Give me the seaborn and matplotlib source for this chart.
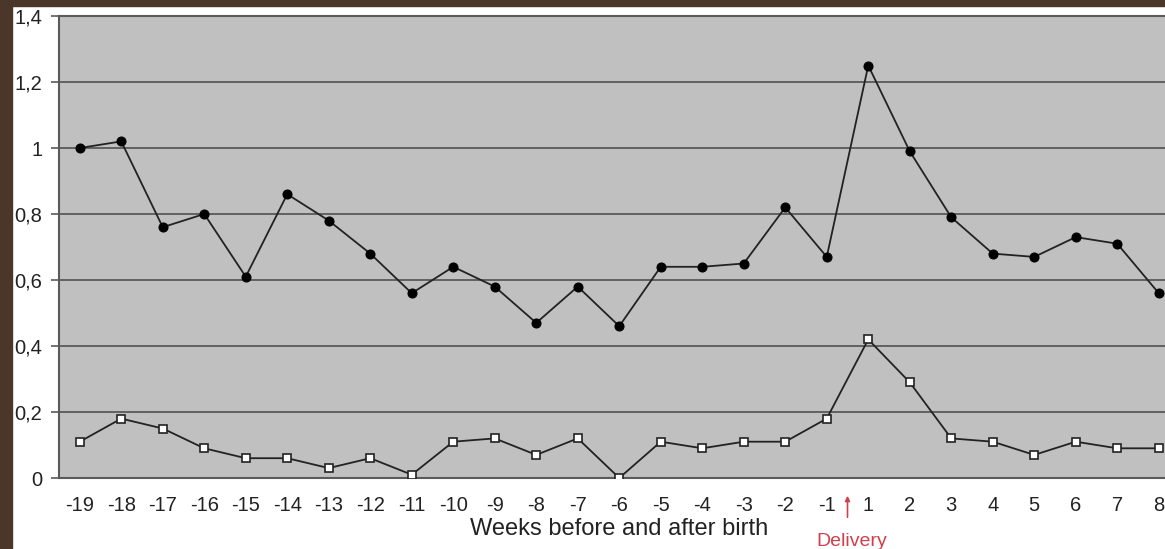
import numpy as np
import pandas as pd
import matplotlib
matplotlib.use("Agg")
import matplotlib.pyplot as plt
from matplotlib.patches import Rectangle
import seaborn as sns

# Data
weeks = ["-19", "-18", "-17", "-16", "-15", "-14", "-13", "-12", "-11", "-10",
         "-9", "-8", "-7", "-6", "-5", "-4", "-3", "-2", "-1",
         "1", "2", "3", "4", "5", "6", "7", "8"]
upper = [1.00, 1.02, 0.76, 0.80, 0.61, 0.86, 0.78, 0.68, 0.56, 0.64,
         0.58, 0.47, 0.58, 0.46, 0.64, 0.64, 0.65, 0.82, 0.67,
         1.25, 0.99, 0.79, 0.68, 0.67, 0.73, 0.71, 0.56]
lower = [0.11, 0.18, 0.15, 0.09, 0.06, 0.06, 0.03, 0.06, 0.01, 0.11,
         0.12, 0.07, 0.12, 0.00, 0.11, 0.09, 0.11, 0.11, 0.18,
         0.42, 0.29, 0.12, 0.11, 0.07, 0.11, 0.09, 0.09]
y_ticks = [0, 0.2, 0.4, 0.6, 0.8, 1.0, 1.2, 1.4]
y_tick_labels = ["0", "0,2", "0,4", "0,6", "0,8", "1", "1,2", "1,4"]
delivery_pos = 18.5  # between week -1 and week 1

df = pd.DataFrame({"pos": np.arange(len(weeks)), "week": weeks,
                   "upper": upper, "lower": lower})

sns.set_style("white")
plt.rcParams["font.family"] = ["Liberation Sans", "DejaVu Sans"]

fig = plt.figure(figsize=(11.65, 5.49), dpi=100)
fig.patch.set_facecolor("white")
ax = fig.add_axes([59 / 1165, 71 / 549, 1120.5 / 1165, 462 / 549])
ax.set_facecolor("#c0c0c0")

grid_col = "#5a5a5a"
for y in y_ticks[1:]:
    ax.axhline(y, color=grid_col, lw=1.3, zorder=1)

sns.lineplot(data=df, x="pos", y="upper", ax=ax, color="#222222", lw=1.3,
             marker="o", markersize=6.5, markerfacecolor="black",
             markeredgecolor="black", zorder=3)
sns.lineplot(data=df, x="pos", y="lower", ax=ax, color="#222222", lw=1.3,
             marker="s", markersize=6, markerfacecolor="white",
             markeredgecolor="#222222", markeredgewidth=1.2, zorder=3)

ax.set_xlim(-0.5, len(weeks) - 0.5)
ax.set_ylim(0, 1.4)
ax.set_yticks(y_ticks)
ax.set_yticklabels(y_tick_labels)
ax.set_xticks(df["pos"])
ax.set_xticklabels(weeks)
ax.set_xticks(np.arange(-0.5, len(weeks), 1.0), minor=True)
ax.tick_params(axis="x", which="major", length=0, pad=13, labelsize=14.5, colors="#222222")
ax.tick_params(axis="x", which="minor", length=6, width=1.2, color=grid_col, direction="out")
ax.tick_params(axis="y", length=6, width=1.2, color=grid_col, pad=6,
               labelsize=14.5, labelcolor="#222222", direction="out", left=True)
ax.set_xlabel("Weeks before and after birth", fontsize=17, color="#222222", labelpad=2)
ax.set_ylabel("")

for side in ["left", "bottom", "top"]:
    ax.spines[side].set_visible(True)
    ax.spines[side].set_color(grid_col)
    ax.spines[side].set_linewidth(1.5)
ax.spines["right"].set_visible(False)

# Delivery marker below the axis
red = "#d0404c"
ax.annotate("", xy=(delivery_pos, 56), xytext=(delivery_pos, 29),
            xycoords=("data", "figure pixels"), textcoords=("data", "figure pixels"),
            arrowprops=dict(arrowstyle="-|>", color=red, lw=1.2, mutation_scale=7))
ax.annotate("Delivery", xy=(delivery_pos + 0.1, 8), xycoords=("data", "figure pixels"),
            ha="center", va="center", fontsize=14, color=red)

# Dark frame on left and top edge
brown = "#4a3729"
fig.patches.append(Rectangle((0, 0), 12 / 1165, 1, transform=fig.transFigure,
                             color=brown, zorder=10))
fig.patches.append(Rectangle((0, 1 - 6 / 549), 1, 6 / 549, transform=fig.transFigure,
                             color=brown, zorder=10))

fig.savefig("out.png", dpi=100)
